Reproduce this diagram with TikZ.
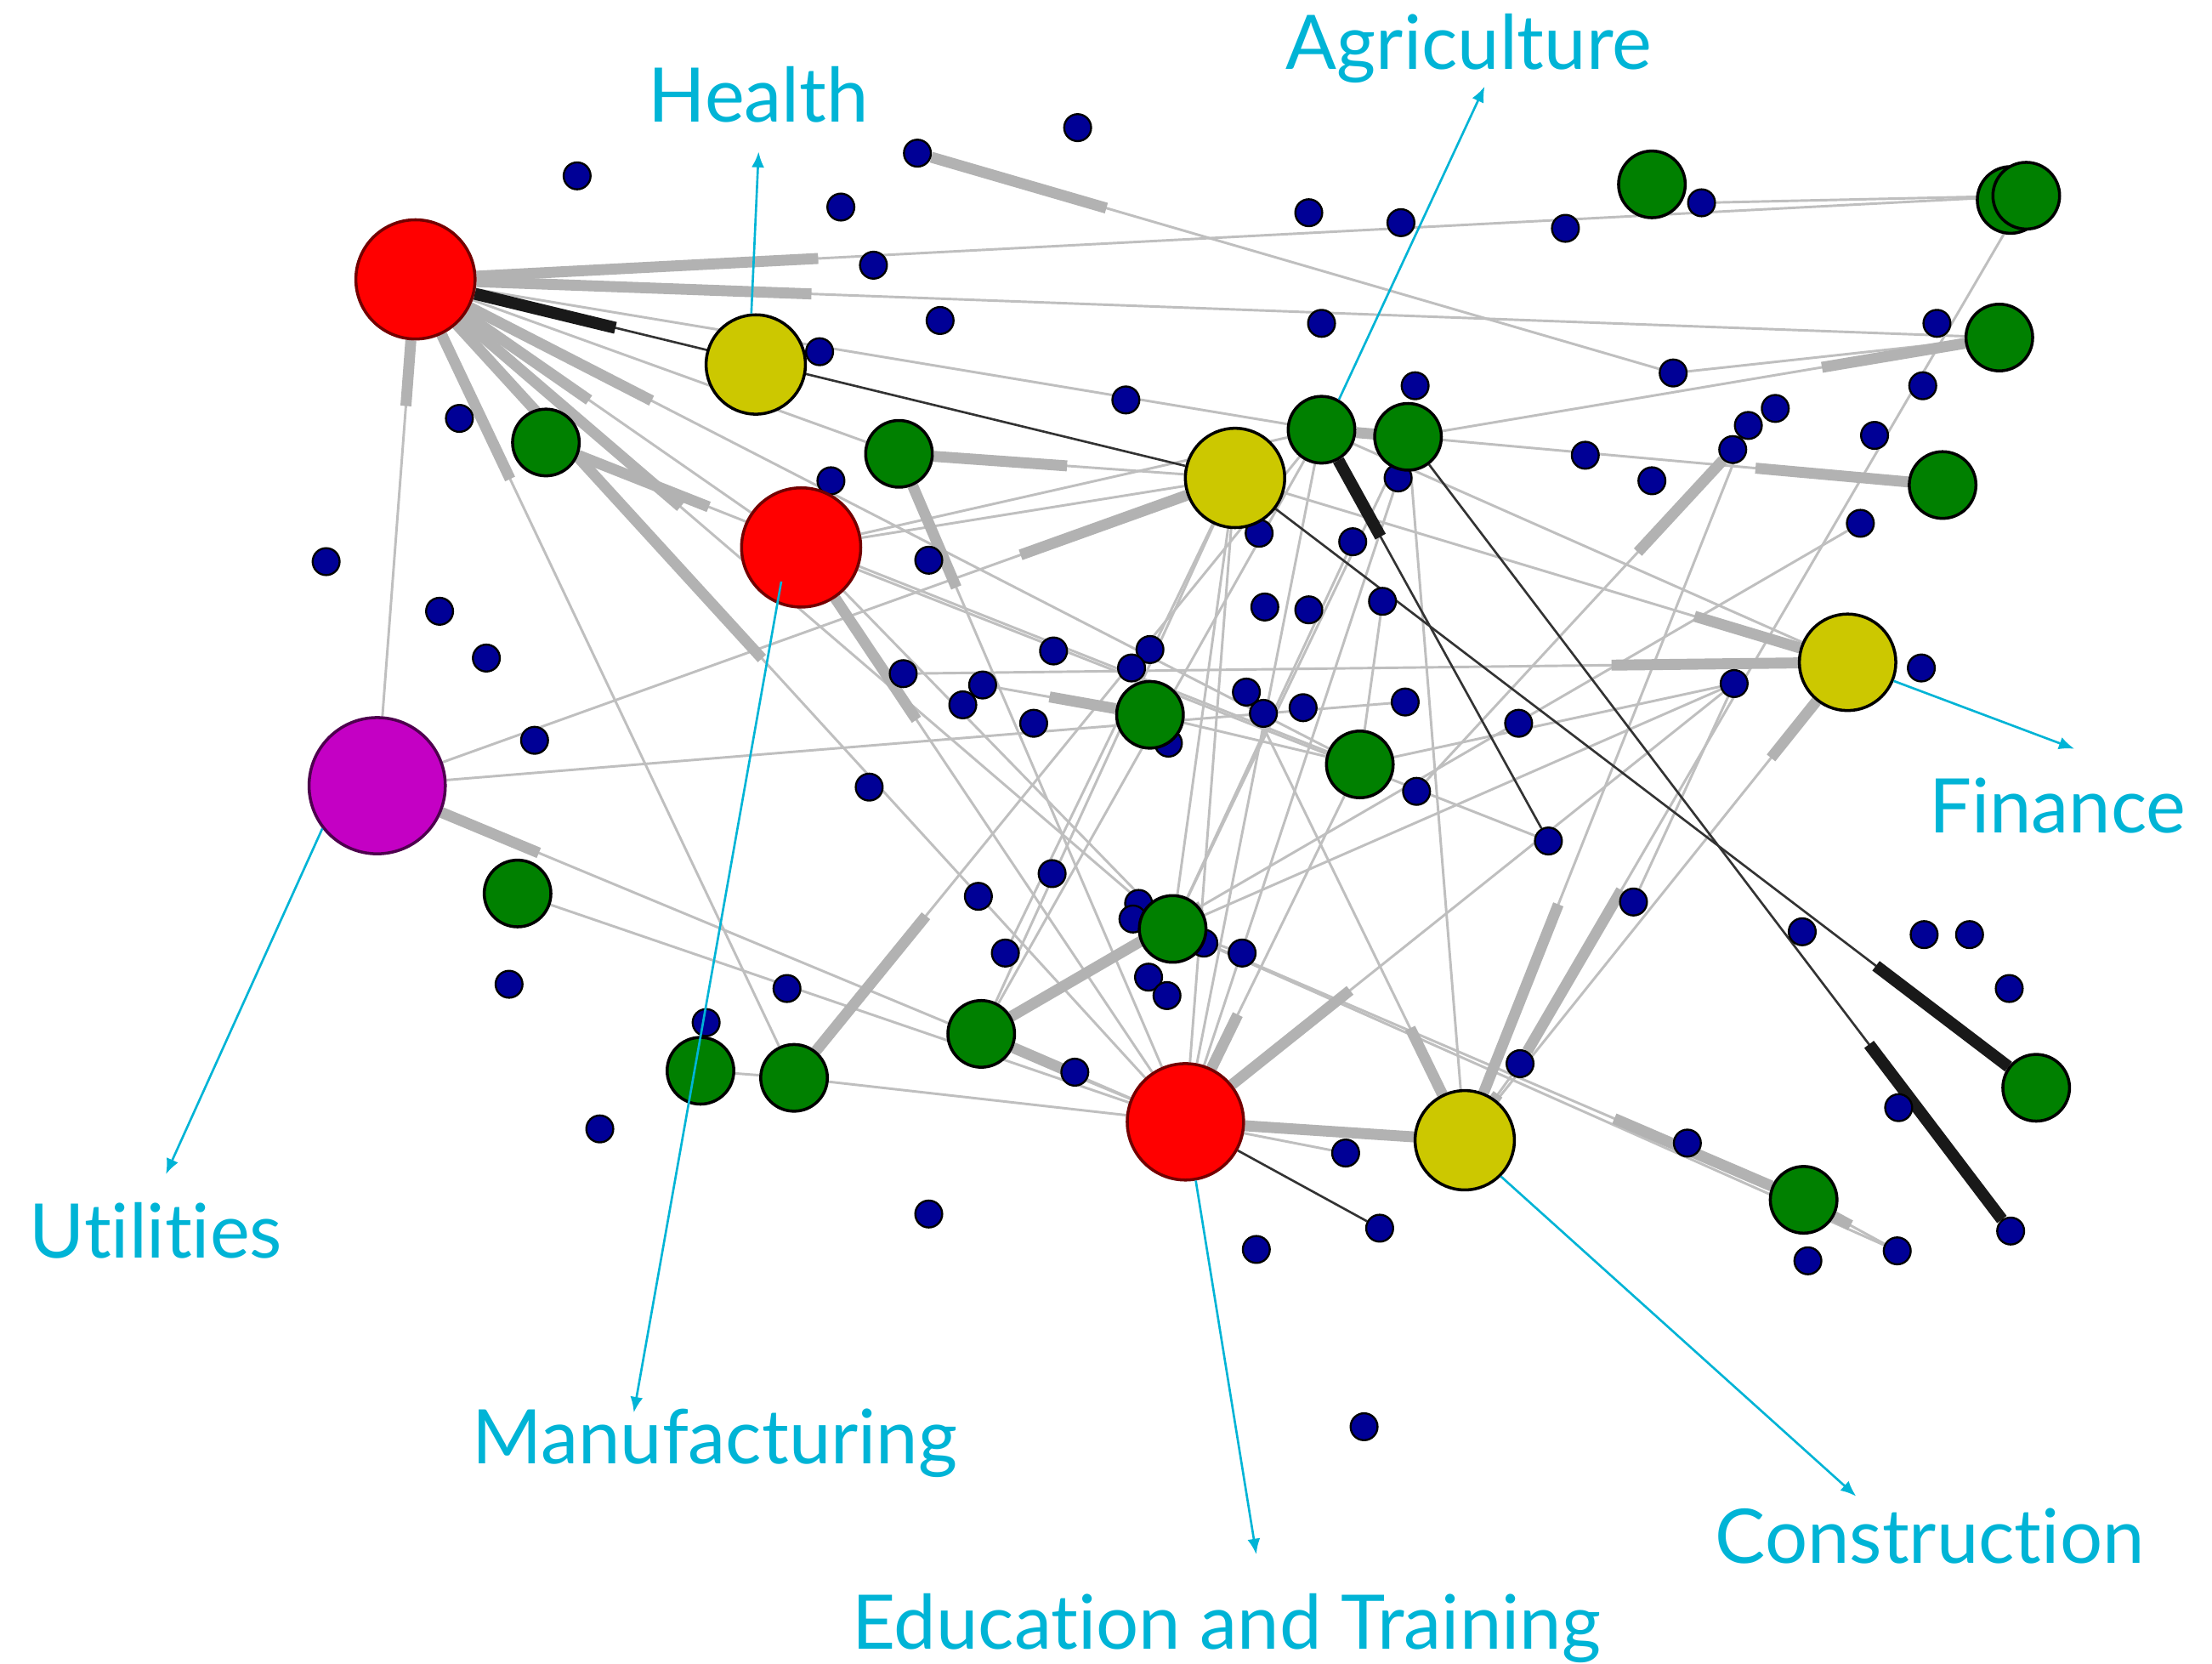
\documentclass[tikz,border=0pt]{standalone}
\usepackage{fontspec}
\setmainfont[Ligatures=CommonOff]{Lato}
\usetikzlibrary{calc,arrows.meta}
\pgfdeclarelayer{back}
\pgfsetlayers{back,main}
\definecolor{redn}{RGB}{255,0,0}
\definecolor{yeln}{RGB}{204,200,0}
\definecolor{grnn}{RGB}{0,128,0}
\definecolor{purn}{RGB}{196,0,196}
\definecolor{dotn}{RGB}{0,0,150}
\definecolor{lbl}{RGB}{0,180,214}
\tikzset{
vtx/.style={circle,draw=black,line width=0.6pt,inner sep=0pt},
big/.style={vtx,minimum size=0.84cm},
mid/.style={vtx,minimum size=0.70cm,fill=yeln},
sml/.style={vtx,minimum size=0.47cm,fill=grnn},
bdot/.style={vtx,minimum size=0.19cm,fill=dotn,line width=0.4pt},
lk/.style={draw=black!25,line width=0.5pt},
band/.style={draw=black!30,line width=2.2pt},
dk/.style={draw=black!80,line width=0.45pt},
blk/.style={draw=black!90,line width=2.4pt},
sector/.style={text=lbl,font=\fontsize{15.1}{18}\selectfont,anchor=base,inner sep=0pt},
lead/.style={draw=lbl,line width=0.45pt,-{Latex[length=1.1mm,width=0.9mm]}}
}
\begin{document}
\begin{tikzpicture}[x=0.01cm,y=-0.01cm]
\useasboundingbox (0,0) rectangle (1560,1173);
\foreach \n/\x/\y in {b1/407/124,b2/760/90,b3/647/108,b4/593/146,b5/616/187,b6/923/150,b7/988/157,b8/1104/161,b9/1200/143,b10/663/226,
b11/578/248,b12/932/228,b13/1180/263,b14/1366/228,b15/1356/272,b16/998/272,b17/794/282,b18/1252/288,b19/1233/300,b20/1222/317,
b21/1322/307,b22/1118/321,b23/1165/339,b24/986/337,b25/324/295,b26/586/339,b27/1312/369,b28/230/396,b29/310/431,b30/343/464,
b31/655/395,b32/888/376,b33/954/382,b34/975/424,b35/892/428,b36/923/430,b37/743/459,b38/811/458,b39/798/471,b40/637/475,
b41/693/483,b42/679/497,b43/729/510,b44/879/488,b45/891/503,b46/919/499,b47/991/495,b48/1071/510,b49/824/524,b50/1223/482,
b51/1355/471,b52/377/522,b53/613/555,b54/999/558,b55/1092/593,b56/1152/636,b57/690/632,b58/742/616,b59/803/637,b60/799/648,
b61/849/665,b62/876/672,b63/709/672,b64/810/689,b65/823/702,b66/555/697,b67/359/694,b68/498/721,b69/758/756,b70/1072/750,
b71/1271/657,b72/1357/659,b73/1389/659,b74/1417/697,b75/1339/781,b76/1190/806,b77/949/813,b78/973/866,b79/886/881,b80/655/856,
b81/423/796,b82/1275/889,b83/1338/882,b84/1418/868,b85/962/1006}
\node[bdot] (\n) at (\x,\y) {};
\foreach \n/\x/\y in {g1/385/312,g2/634/320,g3/932/303,g4/993/308,g5/1165/130,g6b/1418/141,g6/1429/138,g7/1410/238,g8/1370/342,
g9/811/504,g10/959/539,g11/365/630,g12/827/655,g13/692/729,g14/494/755,g15/560/760,g16/1436/767,g17/1272/846}
\node[sml] (\n) at (\x,\y) {};
\node[mid] (Y1) at (533,257) {};
\node[mid] (Y2) at (871,337) {};
\node[mid,minimum size=0.68cm] (Y3) at (1303,467) {};
\node[mid] (Y4) at (1033,804) {};
\node[big,fill=redn,draw=red!45!black] (R1) at (293,197) {};
\node[big,fill=redn,draw=red!45!black] (R2) at (565,386) {};
\node[big,fill=redn,draw=red!45!black,minimum size=0.82cm] (R3) at (836,791) {};
\node[big,fill=purn,draw=purn!40!black,minimum size=0.96cm] (Pu) at (266,554) {};
\begin{pgfonlayer}{back}
\fill[white] (0,0) rectangle (1560,1173);
\foreach \a/\b in {R1/g6,R1/g7,R1/R3,R1/g12,R1/g10,R1/g15,R1/Pu,R1/g2,R1/R2,R1/g3,
b3/b13,g6/b70,b9/g6,b13/g7,g2/Y2,R2/Y2,Pu/Y2,Y2/Y3,Y2/R3,Y2/g13,Y2/b63,Y2/g12,
g3/g4,g4/g8,g4/g7,g3/R3,g3/g13,g4/g12,g4/Y4,g3/Y3,Y3/b40,Y3/Y4,Pu/b47,Pu/R3,g11/R3,
g15/R3,g14/g15,g13/R3,g15/g3,g1/g10,g2/R3,R2/R3,R2/b55,R2/g12,R2/g3,R3/g10,R3/b50,
R3/Y4,R3/b77,R3/b24,g12/g17,g12/b83,g17/b83,Y4/b44,Y4/b70,Y4/b19,b20/b54,b50/g12,
b56/b50,g13/b27,g9/b41,g9/g10,g10/b34,g10/b50,b33/g12,g12/b62}
\draw[lk] (\a) -- (\b);
\foreach \a/\b/\f in {R1/g6/0.25,R1/g7/0.25,R1/R3/0.45,R1/g12/0.35,R1/g10/0.25,R1/g15/0.25,R1/Pu/0.25,R1/R2/0.45,
b3/b13/0.25,b70/g6/0.2,g2/Y2/0.5,Y2/Pu/0.25,Y3/Y2/0.25,g8/g4/0.35,g7/g4/0.3,g3/g4/1,Y3/b40/0.25,Y3/Y4/0.2,
Pu/R3/0.2,g15/g3/0.25,g1/g10/0.2,g2/R3/0.2,R2/R3/0.3,R3/g10/0.3,R3/b50/0.3,R3/Y4/1,g17/g12/0.3,g17/b83/0.5,
Y4/b44/0.25,Y4/b70/0.6,Y4/b19/0.33,b20/b54/0.3,g13/b27/0.25,g13/R3/0.5,g9/b41/0.6}
\draw[band] (\a) -- ($(\a)!\f!(\b)$);
\draw[dk] (R1) -- (Y2);
\draw[dk] (Y2) -- (g16);
\draw[dk] (g4) -- (b84);
\draw[dk] (g3) -- (b55);
\draw[dk] (R3) -- (b78);
\draw[blk] (R1) -- ($(R1)!0.244!(Y2)$);
\draw[blk] (g16) -- ($(g16)!0.2!(Y2)$);
\draw[blk] (b84) -- ($(b84)!0.235!(g4)$);
\draw[blk] (g3) -- ($(g3)!0.26!(b55)$);
\end{pgfonlayer}
\node[sector] (health) at (535,86) {Health};
\node[sector] (agri) at (1036,49) {Agriculture};
\node[sector] (fin) at (1451,587) {Finance};
\node[sector] (util) at (110,887) {Utilities};
\node[sector] (manu) at (504,1032) {Manufacturing};
\node[sector] (edu) at (865,1163) {Education and Training};
\node[sector] (cons) at (1361,1102) {Construction};
\coordinate (tH) at (535,107);
\coordinate (tA) at (1047,61);
\coordinate (tF) at (1463,528);
\coordinate (tU) at (117,828);
\coordinate (sM) at (551,410);
\coordinate (tM) at (447,996);
\coordinate (tE) at (886,1096);
\coordinate (tC) at (1309,1055);
\draw[lead] (Y1.95) -- (tH);
\draw[lead] (g3.60) -- (tA);
\draw[lead] (Y3.-22) -- (tF);
\draw[lead] (Pu.218) -- (tU);
\draw[lead] (sM) -- (tM);
\draw[lead] (R3.-80) -- (tE);
\draw[lead] (Y4.-45) -- (tC);
\end{tikzpicture}
\end{document}
